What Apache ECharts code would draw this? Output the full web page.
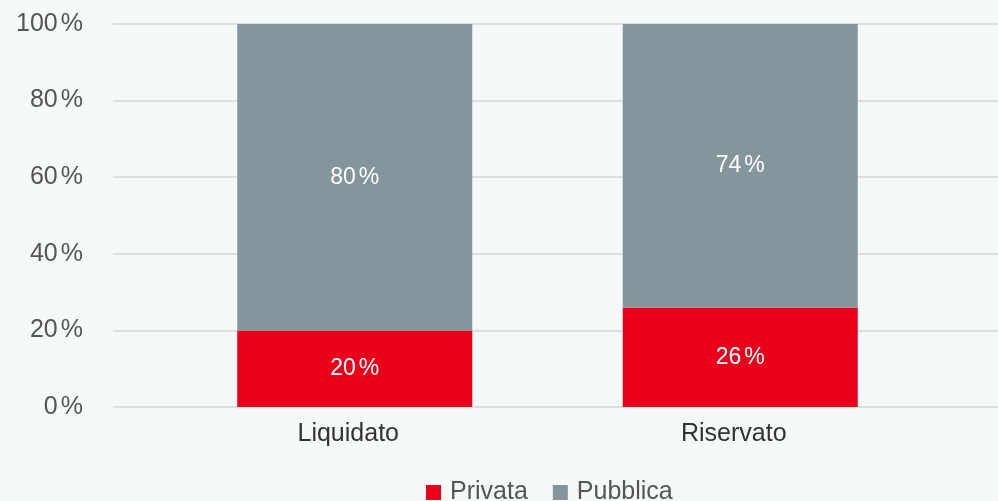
<!DOCTYPE html>
<html>
<head>
<meta charset="utf-8">
<script src="https://cdn.jsdelivr.net/npm/echarts@6/dist/echarts.min.js"></script>
<style>
html,body{margin:0;padding:0;background:#f6f9f9;}
#c{width:998px;height:501px;}
</style>
</head>
<body>
<div id="c"></div>
<script>
const categories = ['Liquidato', 'Riservato'];
const privata = [20, 26];
const pubblica = [80, 74];
const seriesNames = ['Privata', 'Pubblica'];
const yTicks = [0, 20, 40, 60, 80, 100];

const FONT = '"Liberation Sans", Arial, sans-serif';
const chart = echarts.init(document.getElementById('c'));

function pctRich(v) { return v + '{p|%}'; }

const barLabel = {
  show: true,
  position: 'inside',
  color: '#ffffff',
  fontFamily: FONT,
  fontSize: 23,
  formatter: p => pctRich(p.value),
  rich: { p: { color: '#ffffff', fontFamily: FONT, fontSize: 23, padding: [0, 0, 0, 3] } }
};

chart.setOption({
  backgroundColor: '#f6f9f9',
  animation: false,
  grid: [
    { left: 162, right: 65, top: 24, bottom: 94 },
    { left: 113, right: 0, top: 24, bottom: 94 }
  ],
  legend: {
    data: seriesNames,
    left: 421,
    top: 475,
    itemWidth: 15,
    itemHeight: 15,
    itemGap: 25,
    icon: 'rect',
    textStyle: { color: '#555555', fontFamily: FONT, fontSize: 25, padding: [0, 0, 0, 4] }
  },
  xAxis: [
    {
      type: 'category', gridIndex: 0, data: categories,
      axisLine: { show: false }, axisTick: { show: false },
      axisLabel: { color: '#333333', fontFamily: FONT, fontSize: 25, margin: 15, padding: [0, 13, 0, 0] }
    },
    {
      type: 'category', gridIndex: 1, data: categories, show: false
    }
  ],
  yAxis: [
    {
      type: 'value', gridIndex: 0, min: 0, max: 100, interval: 20,
      axisLabel: { show: false }, splitLine: { show: false },
      axisLine: { show: false }, axisTick: { show: false }
    },
    {
      type: 'value', gridIndex: 1, min: 0, max: 100, interval: 20,
      axisLine: { show: false }, axisTick: { show: false },
      splitLine: { show: true, lineStyle: { color: '#dcdedf', width: 2 } },
      axisLabel: {
        margin: 30, color: '#555555', fontFamily: FONT, fontSize: 25,
        formatter: v => yTicks.includes(v) ? pctRich(v) : '',
        rich: { p: { color: '#555555', fontFamily: FONT, fontSize: 25, padding: [0, 0, 0, 3] } }
      }
    }
  ],
  series: [
    {
      name: seriesNames[0], type: 'bar', stack: 's', xAxisIndex: 0, yAxisIndex: 0,
      data: privata, barWidth: 235, itemStyle: { color: '#e9001b' }, label: barLabel, z: 3
    },
    {
      name: seriesNames[1], type: 'bar', stack: 's', xAxisIndex: 0, yAxisIndex: 0,
      data: pubblica, barWidth: 235, itemStyle: { color: '#84959b' }, label: barLabel, z: 3
    }
  ]
});
</script>
</body>
</html>
